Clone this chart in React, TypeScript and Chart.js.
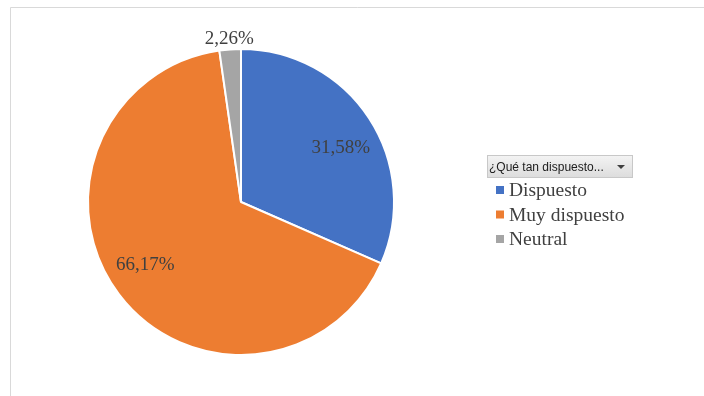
import React, { useEffect, useRef } from "react";
import { Chart, registerables } from "chart.js";

Chart.register(...registerables);

const categories = ["Dispuesto", "Muy dispuesto", "Neutral"];
const values = [31.58, 66.17, 2.26];
const valueLabels = ["31,58%", "66,17%", "2,26%"];
const colors = ["#4472C4", "#ED7D31", "#A5A5A5"];
const legendTitle = "¿Qué tan dispuesto...";

const framePlugin = {
  id: "frame",
  beforeDraw(chart: any) {
    const ctx = chart.ctx;
    ctx.save();
    ctx.fillStyle = "#ffffff";
    ctx.fillRect(0, 0, chart.width, chart.height);
    ctx.strokeStyle = "#d9d9d9";
    ctx.lineWidth = 1;
    ctx.beginPath();
    ctx.moveTo(10.5, chart.height);
    ctx.lineTo(10.5, 7.5);
    ctx.lineTo(chart.width, 7.5);
    ctx.stroke();
    ctx.restore();
  },
};

const labelPlugin = {
  id: "sliceLabels",
  afterDatasetsDraw(chart: any) {
    const ctx = chart.ctx;
    const meta = chart.getDatasetMeta(0);
    ctx.save();
    ctx.font = "19px 'Liberation Serif', serif";
    ctx.fillStyle = "#404040";
    ctx.textAlign = "center";
    ctx.textBaseline = "middle";
    meta.data.forEach((arc: any, i: number) => {
      const p = arc.getProps(["x", "y", "startAngle", "endAngle", "outerRadius"], true);
      const inside = i !== 2;
      const mid = (p.startAngle + p.endAngle) / 2 + (inside ? 0.075 : 0);
      const r = inside ? p.outerRadius * 0.745 : p.outerRadius + 11;
      ctx.fillText(valueLabels[i], p.x + Math.cos(mid) * r, p.y + Math.sin(mid) * r + 1);
    });
    ctx.restore();
  },
};

const legendPlugin = {
  id: "customLegend",
  afterDraw(chart: any) {
    const ctx = chart.ctx;
    ctx.save();
    const bx = 487, by = 155, bw = 146, bh = 23;
    const g = ctx.createLinearGradient(0, by, 0, by + bh);
    g.addColorStop(0, "#f4f4f4");
    g.addColorStop(1, "#dcdcdc");
    ctx.fillStyle = g;
    ctx.fillRect(bx, by, bw, bh);
    ctx.strokeStyle = "#c8c8c8";
    ctx.lineWidth = 1;
    ctx.strokeRect(bx + 0.5, by + 0.5, bw - 1, bh - 1);
    ctx.fillStyle = "#202020";
    ctx.font = "12px 'Liberation Sans', Arial, sans-serif";
    ctx.textBaseline = "middle";
    ctx.textAlign = "left";
    ctx.fillText(legendTitle, bx + 2, by + bh / 2 + 1);
    ctx.fillStyle = "#404040";
    ctx.beginPath();
    ctx.moveTo(bx + bw - 16, by + 10);
    ctx.lineTo(bx + bw - 8, by + 10);
    ctx.lineTo(bx + bw - 12, by + 14);
    ctx.closePath();
    ctx.fill();
    ctx.font = "19.5px 'Liberation Serif', serif";
    categories.forEach((c, i) => {
      const y = 190 + i * 24.5;
      ctx.fillStyle = colors[i];
      ctx.fillRect(496, y - 4, 8, 8);
      ctx.fillStyle = "#404040";
      ctx.fillText(c, 509, y + 1);
    });
    ctx.restore();
  },
};

export default function App() {
  const ref = useRef<HTMLCanvasElement>(null);
  useEffect(() => {
    if (!ref.current) return;
    const chart = new Chart(ref.current, {
      type: "pie",
      data: {
        labels: categories,
        datasets: [
          {
            data: values,
            backgroundColor: colors,
            borderColor: "#ffffff",
            borderWidth: 2,
          },
        ],
      },
      options: {
        animation: false,
        responsive: false,
        maintainAspectRatio: false,
        layout: { padding: { left: 87, right: 309, top: 48, bottom: 40 } },
        plugins: {
          legend: { display: false },
          tooltip: { enabled: false },
        },
      },
      plugins: [framePlugin, labelPlugin, legendPlugin],
    });
    return () => chart.destroy();
  }, []);
  return (
    <canvas
      ref={ref}
      width={704}
      height={396}
      style={{ position: "fixed", left: 0, top: 0, width: 704, height: 396 }}
    />
  );
}
